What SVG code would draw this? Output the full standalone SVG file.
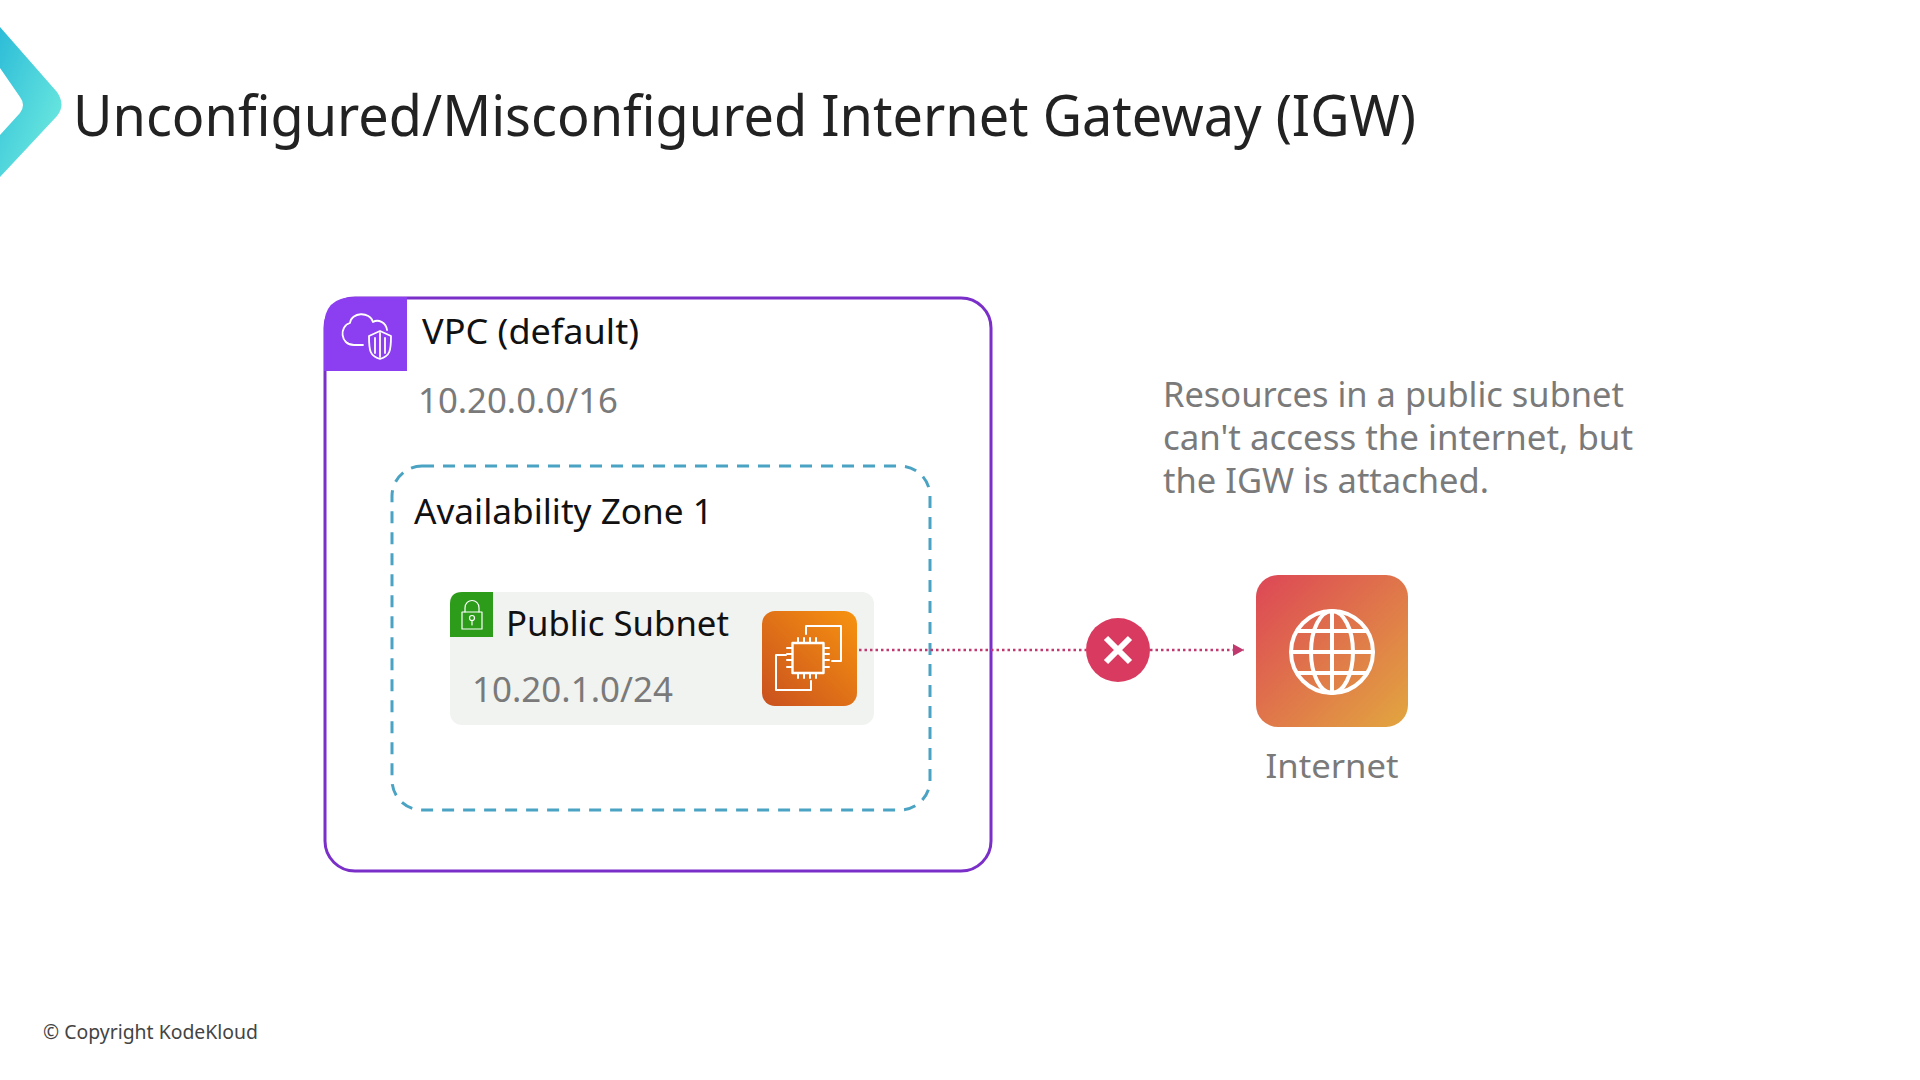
<svg xmlns="http://www.w3.org/2000/svg" width="1920" height="1080" viewBox="0 0 1920 1080">
<style>
text{font-family:"Noto Sans","Open Sans",sans-serif}
.blk{fill:#111;font-size:35px}
.gry{fill:#7a7a7a;font-size:35px}
.ico{fill:none;stroke:#fff;stroke-linejoin:round;stroke-linecap:round}
</style>
<defs>
<linearGradient id="lg" x1="0" y1="0" x2="1" y2="1"><stop offset="0" stop-color="#2cbcd8"/><stop offset="1" stop-color="#76f0e0"/></linearGradient>
<linearGradient id="ec" x1="0" y1="1" x2="1" y2="0"><stop offset="0" stop-color="#c9501f"/><stop offset="1" stop-color="#f7930f"/></linearGradient>
<linearGradient id="ig" x1="0" y1="0" x2="1" y2="1"><stop offset="0" stop-color="#dd4656"/><stop offset="1" stop-color="#e2a63f"/></linearGradient>
<marker id="ah" markerUnits="userSpaceOnUse" markerWidth="12" markerHeight="12" refX="11" refY="6" orient="auto"><path d="M0 0L11 6L0 12Z" fill="#c0396f"/></marker>
</defs>
<rect width="1920" height="1080" fill="#fff"/>
<path id="logo" d="M0 27L57 92Q66 105 57 116L0 177V135L20 113Q26 105 20 97L0 68Z" fill="url(#lg)"/>
<text x="73" y="136" fill="#222" font-size="56" textLength="1343" lengthAdjust="spacingAndGlyphs">Unconfigured/Misconfigured Internet Gateway (IGW)</text>

<g id="vpc">
<rect x="325" y="298" width="666" height="573" rx="30" fill="#fff" stroke="#7b2fc9" stroke-width="3"/>
<path d="M324 371V327Q324 297 354 297H407V371Z" fill="#8c3ff0"/>
<g class="ico" stroke-width="1.800">
<path d="M363 345H354C340 345 339 326 350 323C351 312 370 311 373 322C378 319 386 322 387 330"/>
<path d="M380 331L391 336C391 351 390 356 380 359C370 356 369 351 369 336Z"/>
<path d="M380 333V357M375 338V353M385 338V353"/>
</g>
<text class="blk" x="422" y="344" textLength="217" lengthAdjust="spacingAndGlyphs">VPC (default)</text>
<text class="gry" x="418" y="413" textLength="200" lengthAdjust="spacingAndGlyphs">10.20.0.0/16</text>
</g>

<g id="az">
<rect x="392" y="466" width="538" height="344" rx="30" fill="none" stroke="#4ba3c3" stroke-width="3" stroke-dasharray="12 9"/>
<text class="blk" x="414" y="524" textLength="299" lengthAdjust="spacingAndGlyphs">Availability Zone 1</text>
</g>

<g id="subnet">
<rect x="450" y="592" width="424" height="133" rx="12" fill="#f1f3f1"/>
<path d="M450 637V604Q450 592 462 592H493V637Z" fill="#2d9c1a"/>
<g class="ico" stroke-width="1.200">
<rect x="462" y="612" width="20" height="17"/>
<path d="M465 612V608C465 598 479 598 479 608V612"/>
<circle cx="472" cy="618" r="2.500"/><path d="M472 620.500V625"/>
</g>
<text class="blk" x="506" y="636" textLength="223" lengthAdjust="spacingAndGlyphs">Public Subnet</text>
<text class="gry" x="472" y="702" textLength="201" lengthAdjust="spacingAndGlyphs">10.20.1.0/24</text>
</g>

<g id="connectors">
<path d="M859 650H1086" fill="none" stroke="#c0396f" stroke-width="2.500" stroke-dasharray="2.500 3"/>
<path d="M1150 650H1244" fill="none" stroke="#c0396f" stroke-width="2.500" stroke-dasharray="2.500 3" marker-end="url(#ah)"/>
</g>

<g id="ec2">
<rect x="762" y="611" width="95" height="95" rx="13" fill="url(#ec)"/>
<g class="ico" stroke="#fdf3e4" stroke-width="2">
<path d="M806 634V626H841V661H832"/>
<path d="M786 655H776V690H811V681"/>
<rect x="792.500" y="643" width="31" height="30" stroke-width="2.400"/>
<path d="M798 638V643M804 638V643M810 638V643M816 638V643M798 673V678M804 673V678M810 673V678M816 673V678M787 648H792M787 654H792M787 660H792M787 667H792M824 648H829M824 654H829M824 660H829M824 667H829"/>
</g>
</g>

<g id="blocked">
<circle cx="1118" cy="650" r="32" fill="#d93a5f"/>
<path d="M1106 638L1130 662M1130 638L1106 662" stroke="#fff" stroke-width="6" fill="none"/>
</g>

<g id="internet">
<rect x="1256" y="575" width="152" height="152" rx="22" fill="url(#ig)"/>
<g class="ico" stroke-width="4">
<circle cx="1332" cy="652" r="41"/>
<ellipse cx="1332" cy="652" rx="21" ry="41"/>
<path d="M1332 611V693M1291 652H1373M1297 631H1367M1297 673H1367"/>
</g>
<text x="1332" y="778" text-anchor="middle" fill="#7a7a7a" font-size="33" textLength="133" lengthAdjust="spacingAndGlyphs">Internet</text>
</g>

<g id="note">
<text class="gry" x="1163" y="407" textLength="461" lengthAdjust="spacingAndGlyphs">Resources in a public subnet</text>
<text class="gry" x="1163" y="450" textLength="470" lengthAdjust="spacingAndGlyphs">can't access the internet, but</text>
<text class="gry" x="1163" y="493" textLength="326" lengthAdjust="spacingAndGlyphs">the IGW is attached.</text>
</g>
<text x="43" y="1039" fill="#444" font-size="19" textLength="215" lengthAdjust="spacingAndGlyphs">© Copyright KodeKloud</text>
</svg>
